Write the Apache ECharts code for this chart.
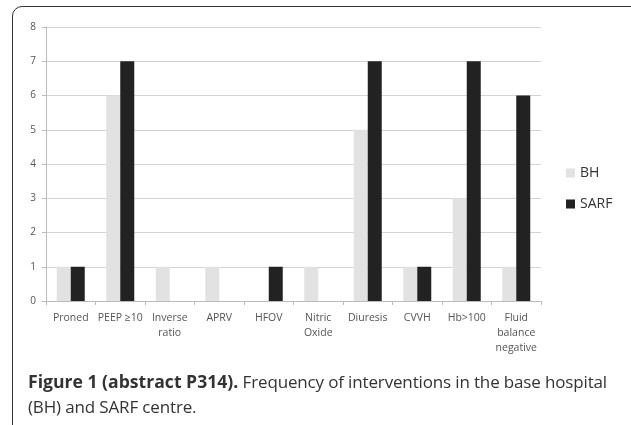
<!DOCTYPE html>
<html>
<head>
<meta charset="utf-8">
<script src="https://cdn.jsdelivr.net/npm/echarts@6/dist/echarts.min.js"></script>
<style>
  body { margin: 0; background: #fff; }
  #wrap { position: relative; width: 631px; height: 425px; overflow: hidden; }
  #frame { position: absolute; left: 12px; top: 6px; width: 630px; height: 430px;
           border: 1.5px solid #333; border-radius: 10px; box-sizing: border-box; }
  #chart { position: absolute; left: 0; top: 0; width: 631px; height: 425px; }
  #caption { position: absolute; left: 28px; top: 369px; width: 600px; white-space: nowrap;
             font-family: "Open Sans", sans-serif; font-size: 17px; line-height: 25px; color: #333;
             letter-spacing: -0.15px; }
  #caption b { font-weight: 700; font-size: 17.6px; letter-spacing: 0; }
</style>
</head>
<body>
<div id="wrap">
  <div id="frame"></div>
  <div id="chart"></div>
  <div id="caption"><b>Figure 1 (abstract P314).</b> Frequency of interventions in the base hospital<br>(BH) and SARF centre.</div>
</div>
<script>
var categories = ['Proned', 'PEEP ≥10', 'Inverse\nratio', 'APRV', 'HFOV', 'Nitric\nOxide',
                  'Diuresis', 'CVVH', 'Hb>100', 'Fluid\nbalance\nnegative'];
var bhValues = [1, 6, 1, 1, 0, 1, 5, 1, 3, 1];
var sarfValues = [1, 7, 0, 0, 1, 0, 7, 1, 7, 6];

var myChart = echarts.init(document.getElementById('chart'));
var option = {
    animation: false,
    textStyle: { fontFamily: 'Open Sans' },
    grid: { left: 46, top: 27, right: 90, bottom: 124 },
    legend: {
        orient: 'vertical',
        left: 561,
        top: 161,
        itemWidth: 9,
        itemHeight: 9,
        itemGap: 17,
        icon: 'rect',
        textStyle: { fontSize: 14, color: '#333' },
        data: ['BH', 'SARF']
    },
    xAxis: {
        type: 'category',
        data: categories,
        axisLine: { lineStyle: { color: '#bbb' } },
        axisTick: { show: true, length: 4, lineStyle: { color: '#bbb' } },
        axisLabel: { color: '#555', fontSize: 10.5, lineHeight: 15, margin: 10, interval: 0 }
    },
    yAxis: {
        type: 'value',
        min: 0,
        max: 8,
        interval: 1,
        axisLine: { show: true, lineStyle: { color: '#bbb' } },
        axisTick: { show: true, length: 4, lineStyle: { color: '#bbb' } },
        axisLabel: { color: '#555', fontSize: 10, margin: 10 },
        splitLine: { lineStyle: { color: '#d4d4d4' } }
    },
    series: [
        {
            name: 'BH',
            type: 'bar',
            barWidth: 14,
            barGap: '0%',
            itemStyle: { color: '#e2e2e2' },
            data: bhValues
        },
        {
            name: 'SARF',
            type: 'bar',
            barWidth: 14,
            itemStyle: { color: '#222' },
            data: sarfValues
        }
    ]
};
myChart.setOption(option);
</script>
</body>
</html>
